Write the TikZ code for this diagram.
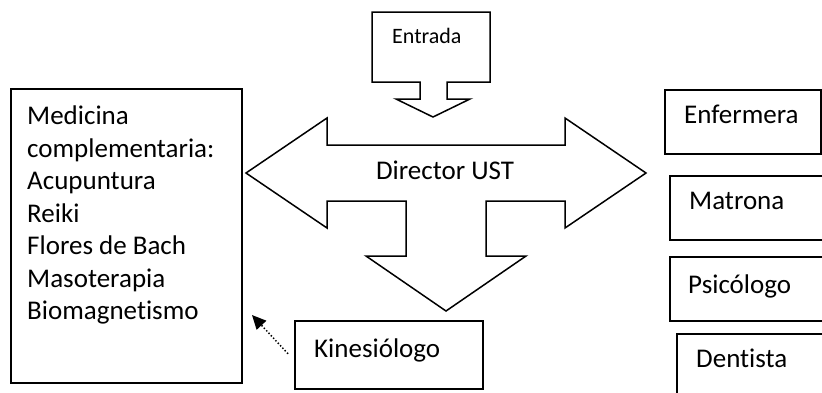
\documentclass[tikz,border=0pt]{standalone}
\usepackage{fontspec}
\setmainfont{Carlito}[Ligatures={NoCommon}]
\usetikzlibrary{arrows.meta}
\begin{document}
\begin{tikzpicture}[x=1pt,y=-1pt,
  outline/.style={draw=black,line width=1.5pt,line join=miter},
  boxnode/.style={outline,fill=white,inner sep=0pt,anchor=north west},
  label/.style={inner sep=0pt,anchor=base west,font=\fontsize{27}{32.5}\selectfont},
  pointer/.style={line width=1.5pt,dash pattern=on 1.4pt off 2pt,
    -{Triangle[length=14pt,width=13pt]}}]
\useasboundingbox (0,0) rectangle (822,392);
\clip (0,0) rectangle (822,392);

% input callout with its downward arrow
\draw[outline] (372,12) -- (490,12) -- (490,82) -- (447,82) -- (447,99)
  -- (470,99) -- (433,117) -- (396,99) -- (420,99) -- (420,82)
  -- (372,82) -- cycle;
\node[label,font=\fontsize{22}{26}\selectfont] (entrada) at (392,43) {Entrada};

% three-way arrow: left, right and down
\draw[outline] (246,173) -- (327,118) -- (327,145) -- (565,145) -- (565,118)
  -- (646,173) -- (565,228) -- (565,201) -- (486,201) -- (486,256)
  -- (526,256) -- (446,311) -- (366,256) -- (406,256) -- (406,201)
  -- (327,201) -- (327,228) -- cycle;
\node[label,anchor=base] (director) at (445,179) {Director UST};

% complementary medicine list
\node[boxnode,minimum width=231pt,minimum height=294pt] (medbox) at (10,88) {};
\node[label,anchor=north west,align=left] (medtxt) at (27,106)
  {Medicina\\complementaria:\\Acupuntura\\Reiki\\Flores de Bach\\Masoterapia\\Biomagnetismo};

% professionals on the right
\node[boxnode,minimum width=156pt,minimum height=64pt] (enfbox) at (664,89) {};
\node[label] (enf) at (684,123) {Enfermera};
\node[boxnode,minimum width=170pt,minimum height=64pt] (matbox) at (669,175) {};
\node[label] (mat) at (689,209) {Matrona};
\node[boxnode,minimum width=170pt,minimum height=64pt] (psibox) at (669,256) {};
\node[label] (psi) at (688,293) {Psicólogo};
\node[boxnode,minimum width=170pt,minimum height=80pt] (denbox) at (676,333) {};
\node[label] (den) at (696,367) {Dentista};

% kinesiologist with dotted pointer
\node[boxnode,minimum width=188pt,minimum height=68pt] (kinbox) at (294,320) {};
\node[label] (kin) at (314,357) {Kinesiólogo};
\coordinate (kintip) at (252,315);
\draw[pointer] ([yshift=1pt]kinbox.west) ++(-6,0) -- (kintip);
\end{tikzpicture}
\end{document}
